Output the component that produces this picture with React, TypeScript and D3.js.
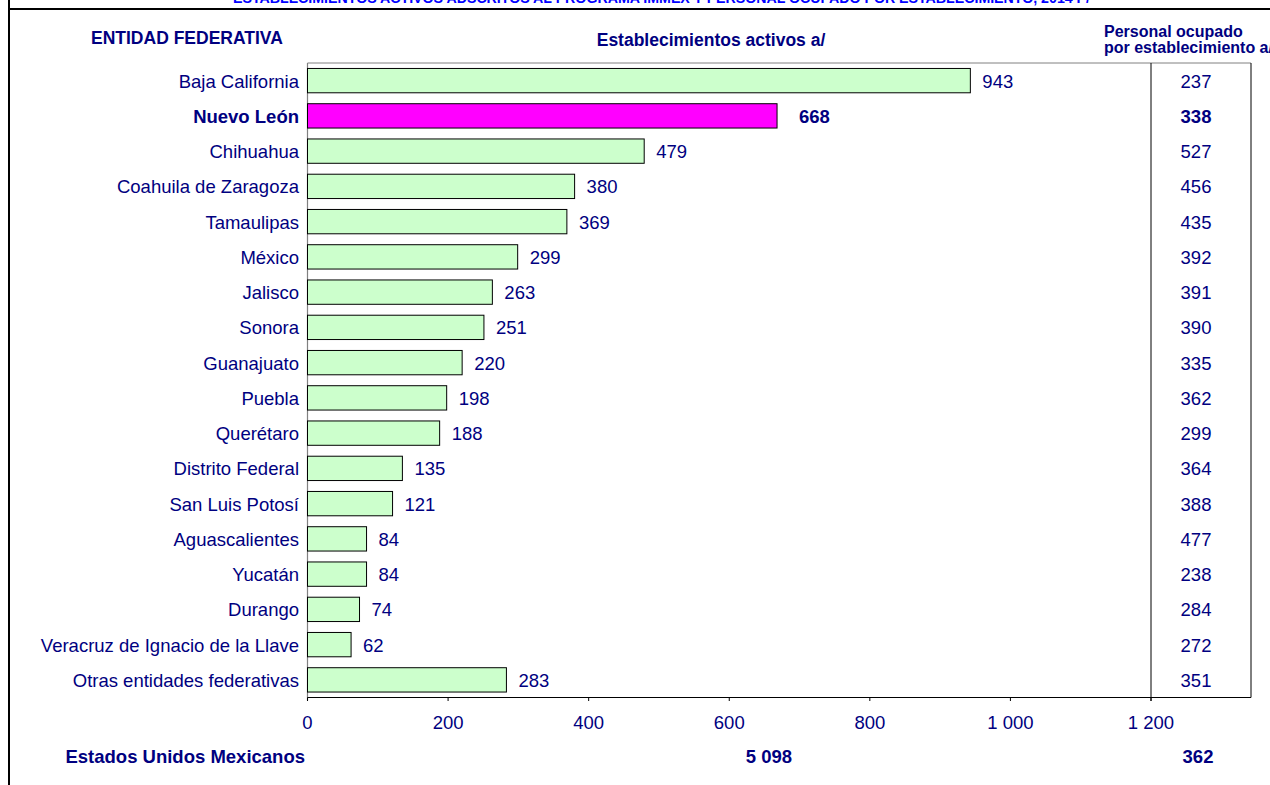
import React from "react";
import * as d3 from "d3";

const categories = [
  "Baja California",
  "Nuevo León",
  "Chihuahua",
  "Coahuila de Zaragoza",
  "Tamaulipas",
  "México",
  "Jalisco",
  "Sonora",
  "Guanajuato",
  "Puebla",
  "Querétaro",
  "Distrito Federal",
  "San Luis Potosí",
  "Aguascalientes",
  "Yucatán",
  "Durango",
  "Veracruz de Ignacio de la Llave",
  "Otras entidades federativas",
];
const establecimientos = [943, 668, 479, 380, 369, 299, 263, 251, 220, 198, 188, 135, 121, 84, 84, 74, 62, 283];
const personalPorEstablecimiento = [237, 338, 527, 456, 435, 392, 391, 390, 335, 362, 299, 364, 388, 477, 238, 284, 272, 351];
const highlighted = "Nuevo León";
const xTicks = [0, 200, 400, 600, 800, 1000, 1200];
const totalLabel = "Estados Unidos Mexicanos";
const totalEstablecimientos = 5098;
const totalPersonal = 362;
const title = "ESTABLECIMIENTOS ACTIVOS ADSCRITOS AL PROGRAMA IMMEX Y PERSONAL OCUPADO POR ESTABLECIMIENTO, 2014 P/";

const W = 1270;
const H = 785;
const FONT = "'Liberation Sans', Arial, Helvetica, sans-serif";
const NAVY = "#000080";

const fmt = (v: number) => {
  const s = String(Math.round(v));
  return s.replace(/\B(?=(\d{3})+(?!\d))/g, " ");
};

export default function App() {
  const plotLeft = 307.5;
  const plotRight = 1151;
  const plotTop = 63;
  const plotBottom = 697.5;
  const tableRight = 1251;

  const x = d3.scaleLinear().domain([0, 1200]).range([plotLeft, plotRight]);
  const y = d3
    .scaleBand<string>()
    .domain(categories)
    .range([plotTop, plotBottom])
    .paddingInner(0.31)
    .paddingOuter(0.155);

  const rowCenter = (c: string) => (y(c) as number) + y.bandwidth() / 2;
  const colCenter = 1196;

  return (
    <div style={{ position: "fixed", left: 0, top: 0, width: W, height: H, background: "#fff" }}>
      <svg width={W} height={H} style={{ display: "block", fontFamily: FONT }}>
        <rect x={0} y={0} width={W} height={H} fill="#fff" />
        {/* clipped title */}
        <text
          x={233}
          y={3}
          fill="#0000FF"
          fontWeight="bold"
          fontSize={15}
          textLength={857}
          lengthAdjust="spacingAndGlyphs"
        >
          {title}
        </text>
        {/* frame lines */}
        <line x1={9} y1={0} x2={9} y2={H} stroke="#000" strokeWidth={2} />
        <line x1={8} y1={9} x2={W} y2={9} stroke="#000" strokeWidth={2} />

        {/* headers */}
        <text x={91} y={44} fill={NAVY} fontWeight="bold" fontSize={17.5}>
          ENTIDAD FEDERATIVA
        </text>
        <text x={711} y={46} fill={NAVY} fontWeight="bold" fontSize={17.5} textAnchor="middle">
          Establecimientos activos a/
        </text>
        <text x={1104} y={36.5} fill={NAVY} fontWeight="bold" fontSize={16}>
          Personal ocupado
        </text>
        <text x={1104} y={53} fill={NAVY} fontWeight="bold" fontSize={16}>
          por establecimiento a/
        </text>

        {/* plot frame */}
        <line x1={plotLeft} y1={plotTop} x2={tableRight} y2={plotTop} stroke="#808080" strokeWidth={1} />
        <line x1={plotLeft} y1={plotTop} x2={plotLeft} y2={plotBottom + 3} stroke="#808080" strokeWidth={1.2} />

        {/* bars */}
        {categories.map((c, i) => {
          const v = establecimientos[i];
          const hl = c === highlighted;
          const by = y(c) as number;
          return (
            <g key={c}>
              <rect
                x={x(0)}
                y={by}
                width={x(v) - x(0)}
                height={y.bandwidth()}
                fill={hl ? "#FF00FF" : "#CCFFCC"}
                stroke="#000"
                strokeWidth={1}
              />
              <text
                x={x(v) + (hl ? 22 : 12)}
                y={rowCenter(c) + 7}
                fill={NAVY}
                fontSize={18.5}
                fontWeight={hl ? "bold" : "normal"}
              >
                {fmt(v)}
              </text>
              <text
                x={299}
                y={rowCenter(c) + 7}
                fill={NAVY}
                fontSize={18.5}
                fontWeight={hl ? "bold" : "normal"}
                textAnchor="end"
              >
                {c}
              </text>
              <text
                x={colCenter}
                y={rowCenter(c) + 7}
                fill={NAVY}
                fontSize={18.5}
                fontWeight={hl ? "bold" : "normal"}
                textAnchor="middle"
              >
                {fmt(personalPorEstablecimiento[i])}
              </text>
            </g>
          );
        })}

        {/* x axis */}
        <line x1={plotLeft} y1={plotBottom} x2={tableRight} y2={plotBottom} stroke="#000" strokeWidth={1.2} />
        {xTicks.map((t) => (
          <g key={t}>
            <line x1={x(t)} y1={plotBottom} x2={x(t)} y2={plotBottom + 3.5} stroke="#000" strokeWidth={1} />
            <text x={x(t)} y={729} fill={NAVY} fontSize={18.5} textAnchor="middle">
              {fmt(t)}
            </text>
          </g>
        ))}

        {/* table column */}
        <line x1={plotRight} y1={plotTop} x2={plotRight} y2={plotBottom + 3.5} stroke="#000" strokeWidth={1} />
        <line x1={tableRight} y1={plotTop} x2={tableRight} y2={plotBottom} stroke="#000" strokeWidth={1} />

        {/* totals */}
        <text x={305} y={763} fill={NAVY} fontSize={18.5} fontWeight="bold" textAnchor="end">
          {totalLabel}
        </text>
        <text x={769} y={763} fill={NAVY} fontSize={18.5} fontWeight="bold" textAnchor="middle">
          {fmt(totalEstablecimientos)}
        </text>
        <text x={1198} y={763} fill={NAVY} fontSize={18.5} fontWeight="bold" textAnchor="middle">
          {fmt(totalPersonal)}
        </text>
      </svg>
    </div>
  );
}
